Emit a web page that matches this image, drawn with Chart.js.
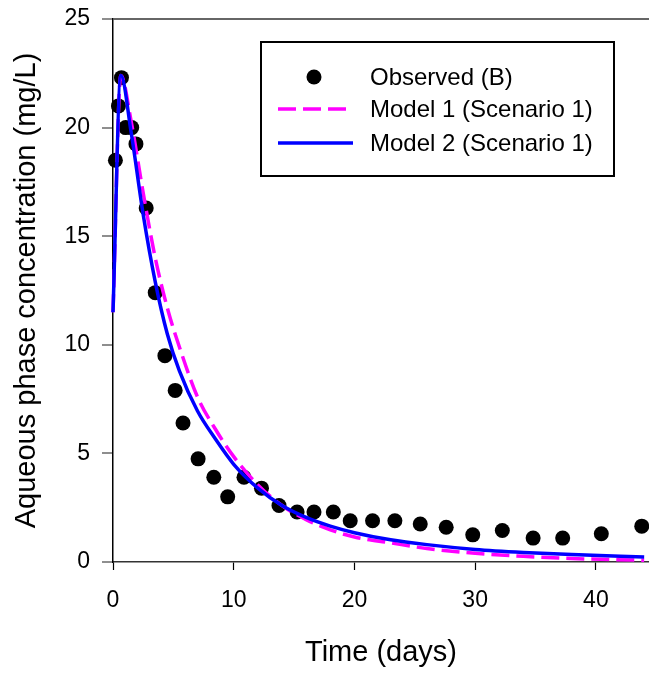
<!DOCTYPE html>
<html>
<head>
<meta charset="utf-8">
<script src="https://cdn.jsdelivr.net/npm/chart.js@4.4.1/dist/chart.umd.min.js"></script>
<style>
  html, body { margin: 0; padding: 0; background: #fff; }
  #wrap { width: 649px; height: 675px; position: relative; }
</style>
</head>
<body>
<div id="wrap"><canvas id="chart"></canvas></div>
<script>
// observed concentrations (B)
const obsDays = [0.2, 0.45, 0.7, 1.05, 1.55, 1.9, 2.75, 3.5, 4.3, 5.15, 5.8, 7.05, 8.35, 9.5,
    10.85, 12.3, 13.75, 15.25, 16.65, 18.25, 19.65, 21.5, 23.35, 25.45, 27.6, 29.8, 32.25,
    34.8, 37.25, 40.45, 43.8];
const obsValues = [18.5, 21.0, 22.3, 20.0, 20.0, 19.25, 16.3, 12.4, 9.5, 7.9, 6.4, 4.75, 3.9, 3.0,
    3.9, 3.4, 2.6, 2.3, 2.3, 2.3, 1.9, 1.9, 1.9, 1.75, 1.6, 1.25, 1.45,
    1.1, 1.1, 1.3, 1.65];

// model curves
const modelDays = [0, 0.65, 1.5, 2.5, 3.5, 4.5, 5.5, 7, 8.5, 10, 12, 14, 16, 18, 20, 23, 26, 30, 34, 38, 44];
const model1Values = [11.5, 22.4, 20.3, 17.0, 14.0, 11.7, 9.9, 7.6, 6.1, 4.85, 3.55, 2.6, 1.95, 1.48,
    1.15, 0.88, 0.62, 0.4, 0.26, 0.16, 0.08];
const model2Values = [11.5, 22.4, 19.8, 16.0, 12.9, 10.5, 8.8, 6.95, 5.65, 4.5, 3.4, 2.6, 2.05, 1.65,
    1.35, 1.02, 0.8, 0.58, 0.44, 0.34, 0.23];

const xTicks = [0, 10, 20, 30, 40];
const yTicks = [0, 5, 10, 15, 20, 25];

const FONT = '"Liberation Sans", Arial, Helvetica, sans-serif';

const toXY = (xs, ys) => xs.map((x, i) => ({ x: x, y: ys[i] }));

// legend drawn inside the plot, boxed
const boxLegend = {
    id: 'boxLegend',
    afterDraw(chart) {
        const ctx = chart.ctx;
        const x0 = 261, y0 = 42, w = 353, h = 134;
        ctx.save();
        ctx.fillStyle = '#fff';
        ctx.fillRect(x0, y0, w, h);
        ctx.strokeStyle = '#000';
        ctx.lineWidth = 2;
        ctx.strokeRect(x0, y0, w, h);

        const rows = [77, 109, 143];
        chart.data.datasets.forEach((ds, i) => {
            const y = rows[i];
            ctx.setLineDash([]);
            if (ds.showLine) {
                ctx.strokeStyle = ds.borderColor;
                ctx.lineWidth = ds.borderWidth;
                ctx.setLineDash(ds.borderDash || []);
                ctx.beginPath();
                ctx.moveTo(278, y);
                ctx.lineTo(ds.borderDash ? 351 : 353, y);
                ctx.stroke();
            } else {
                ctx.fillStyle = ds.backgroundColor;
                ctx.beginPath();
                ctx.arc(314, y, 7.5, 0, Math.PI * 2);
                ctx.fill();
            }
            ctx.setLineDash([]);
            ctx.fillStyle = '#000';
            ctx.font = '24px ' + FONT;
            ctx.textBaseline = 'middle';
            ctx.textAlign = 'left';
            ctx.fillText(ds.label, 370, y + 1);
        });
        ctx.restore();
    }
};

new Chart(document.getElementById('chart'), {
    type: 'scatter',
    data: {
        datasets: [
            {
                label: 'Observed (B)',
                data: toXY(obsDays, obsValues),
                showLine: false,
                pointRadius: 7.5,
                pointBackgroundColor: '#000',
                backgroundColor: '#000',
                pointBorderWidth: 0,
                order: 3,
                clip: false
            },
            {
                label: 'Model 1 (Scenario 1)',
                data: toXY(modelDays, model1Values),
                showLine: true,
                borderColor: '#ff00ff',
                borderWidth: 3.5,
                borderDash: [18, 7],
                pointRadius: 0,
                cubicInterpolationMode: 'monotone',
                order: 2,
                clip: false
            },
            {
                label: 'Model 2 (Scenario 1)',
                data: toXY(modelDays, model2Values),
                showLine: true,
                borderColor: '#0000ff',
                borderWidth: 3.5,
                pointRadius: 0,
                cubicInterpolationMode: 'monotone',
                order: 1,
                clip: false
            }
        ]
    },
    options: {
        responsive: true,
        maintainAspectRatio: false,
        animation: false,
        devicePixelRatio: 1,
        layout: { autoPadding: false, padding: { top: 19, right: 0, left: 0, bottom: 0 } },
        plugins: {
            legend: { display: false },
            tooltip: { enabled: false }
        },
        scales: {
            x: {
                type: 'linear',
                min: 0,
                max: 44.4,
                afterFit(scale) {
                    scale.height = 113;
                    scale.paddingLeft = 0;
                    scale.paddingRight = 0;
                },
                afterBuildTicks(scale) {
                    scale.ticks = xTicks.map(v => ({ value: v }));
                },
                border: { color: '#333', width: 1.5 },
                grid: {
                    drawOnChartArea: false,
                    tickLength: 8,
                    tickColor: '#000',
                    tickWidth: 1.2
                },
                ticks: {
                    color: '#000',
                    padding: 17,
                    maxRotation: 0,
                    font: { family: FONT, size: 23 }
                },
                title: {
                    display: true,
                    text: 'Time (days)',
                    color: '#000',
                    font: { family: FONT, size: 29 },
                    padding: { top: 0, bottom: 5 }
                }
            },
            y: {
                type: 'linear',
                min: 0,
                max: 25,
                afterFit(scale) {
                    scale.width = 113;
                    scale.paddingTop = 0;
                    scale.paddingBottom = 0;
                },
                afterBuildTicks(scale) {
                    scale.ticks = yTicks.map(v => ({ value: v }));
                },
                border: { color: '#000', width: 1.5 },
                grid: {
                    color: ctx => (ctx.tick && ctx.tick.value === 25) ? '#666' : 'rgba(0,0,0,0)',
                    lineWidth: 2,
                    tickLength: 11,
                    tickColor: '#444',
                    tickWidth: 1.2
                },
                ticks: {
                    color: '#000',
                    padding: 12,
                    font: { family: FONT, size: 23 }
                },
                title: {
                    display: true,
                    text: 'Aqueous phase concentration (mg/L)',
                    color: '#000',
                    font: { family: FONT, size: 29 },
                    padding: { top: 10, bottom: 0 }
                }
            }
        }
    },
    plugins: [boxLegend]
});
</script>
</body>
</html>
